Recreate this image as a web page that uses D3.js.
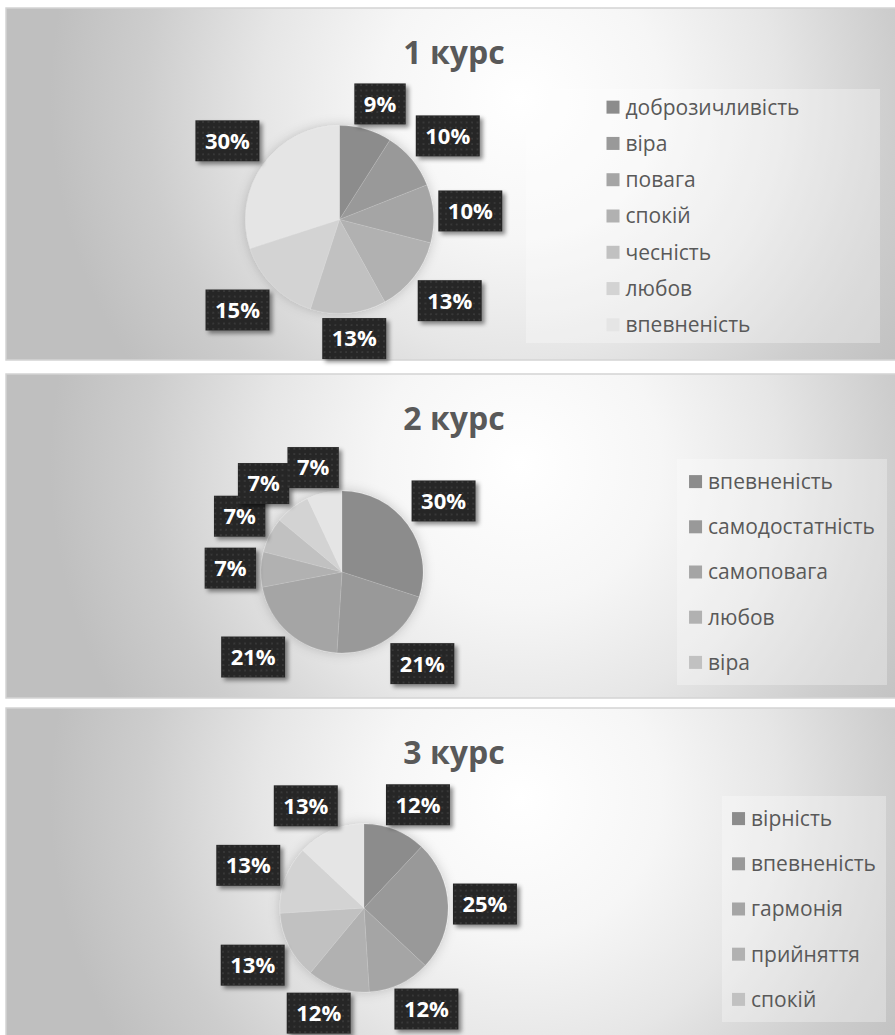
<!DOCTYPE html>
<html><head><meta charset="utf-8">
<script src="https://cdn.jsdelivr.net/npm/d3@7"></script>
<style>
body{margin:0;background:#fff;}
svg{display:block;}
text{font-family:"Open Sans",sans-serif;}
</style>
</head><body>
<svg id="chart" width="895" height="1035"></svg>
<script>
// ---- data ----
const titles = ["1 курс", "2 курс", "3 курс"];
const course1Categories = ["доброзичливість", "віра", "повага", "спокій", "чесність", "любов", "впевненість"];
const course1Values = [9, 10, 10, 13, 13, 15, 30];
// legend of course 2 and 3 only shows first five categories (remaining entries cut off in original)
const course2Categories = ["впевненість", "самодостатність", "самоповага", "любов", "віра"];
const course2Values = [30, 21, 21, 7, 7, 7, 7];
const course3Categories = ["вірність", "впевненість", "гармонія", "прийняття", "спокій"];
const course3Values = [12, 25, 12, 12, 13, 13, 13];

// ---- styles / layout ----
const shades = ["#8c8c8c", "#999999", "#a5a5a5", "#b1b1b1", "#c1c1c1", "#d3d3d3", "#e5e5e5"];
const layouts = [
  {x: 6, y: 8,   w: 890, h: 352, cx: 339.5, cy: 219.5, r: 94, legend: {x: 526, y: 89,  w: 354, h: 254}},
  {x: 6, y: 374, w: 890, h: 324, cx: 342,   cy: 572,   r: 81, legend: {x: 677, y: 459, w: 210, h: 226}},
  {x: 6, y: 708, w: 890, h: 340, cx: 364,   cy: 908,   r: 84, legend: {x: 722, y: 796, w: 164, h: 226}}
];
const charts = [
  {title: titles[0], cats: course1Categories, vals: course1Values},
  {title: titles[1], cats: course2Categories, vals: course2Values},
  {title: titles[2], cats: course3Categories, vals: course3Values}
];

const svg = d3.select("#chart");
const defs = svg.append("defs");

const pat = defs.append("pattern").attr("id", "dots").attr("width", 5.4).attr("height", 5.4)
  .attr("patternUnits", "userSpaceOnUse");
pat.append("rect").attr("width", 5.4).attr("height", 5.4).attr("fill", "#282828");
pat.append("circle").attr("cx", 2.7).attr("cy", 2.7).attr("r", 0.75).attr("fill", "#474747");

const fl = defs.append("filter").attr("id", "lblShadow").attr("x", "-30%").attr("y", "-30%").attr("width", "170%").attr("height", "170%");
fl.append("feDropShadow").attr("dx", 3).attr("dy", 3).attr("stdDeviation", 2).attr("flood-color", "#000").attr("flood-opacity", 0.45);

const fp = defs.append("filter").attr("id", "pieShadow").attr("x", "-30%").attr("y", "-30%").attr("width", "160%").attr("height", "160%");
fp.append("feDropShadow").attr("dx", 0).attr("dy", 0).attr("stdDeviation", 6).attr("flood-color", "#000").attr("flood-opacity", 0.2);

const color = d3.scaleOrdinal().domain(d3.range(7)).range(shades);

charts.forEach((c, i) => {
  const L = layouts[i];
  const gid = "bg" + i;
  const grad = defs.append("radialGradient").attr("id", gid).attr("gradientUnits", "userSpaceOnUse")
    .attr("cx", 520).attr("cy", L.y + 90).attr("r", 470);
  [[0, "#ffffff"], [0.3, "#f6f6f6"], [0.55, "#e6e6e6"], [0.8, "#cdcdcd"], [1, "#bfbfbf"]]
    .forEach(([o, col]) => grad.append("stop").attr("offset", o).attr("stop-color", col));

  const g = svg.append("g");
  g.append("rect").attr("x", L.x).attr("y", L.y).attr("width", L.w).attr("height", L.h)
    .attr("fill", `url(#${gid})`).attr("stroke", "#d4d4d4").attr("stroke-width", 1.5);

  g.append("text").attr("x", 454).attr("y", L.y + 56).attr("text-anchor", "middle")
    .attr("font-size", 32).attr("font-weight", 700).attr("fill", "#595959").text(c.title);

  // pie
  const pie = d3.pie().sort(null).value(d => d);
  const arcs = pie(c.vals);
  const arc = d3.arc().innerRadius(0).outerRadius(L.r);
  const pg = g.append("g").attr("transform", `translate(${L.cx},${L.cy})`);
  pg.append("g").attr("filter", "url(#pieShadow)").selectAll("path").data(arcs).join("path")
    .attr("d", arc).attr("fill", (d, k) => color(k))
    .attr("stroke", "rgba(255,255,255,0.18)").attr("stroke-width", 0.6);

  // labels
  arcs.forEach((d) => {
    const a = (d.startAngle + d.endAngle) / 2;
    const ux = Math.sin(a), uy = -Math.cos(a);
    const lg = pg.append("g");
    const t = lg.append("text").attr("text-anchor", "middle").attr("dy", "0.36em")
      .attr("font-size", 22).attr("font-weight", 700).attr("fill", "#ffffff").text(d.value + "%");
    const tw = t.node().getComputedTextLength();
    const bw = tw + 19, bh = 41, hw = bw / 2, hh = bh / 2;
    const s = v => Math.sign(v) * Math.min(1, Math.abs(v) * 1.8);
    const R = L.r + 5;
    const px = R * ux + hw * s(ux), py = R * uy + hh * s(uy);
    lg.attr("transform", `translate(${px},${py})`);
    lg.insert("rect", "text").attr("x", -hw).attr("y", -hh).attr("width", bw).attr("height", bh)
      .attr("fill", "url(#dots)").attr("filter", "url(#lblShadow)");
  });

  // legend
  const LG = L.legend;
  g.append("rect").attr("x", LG.x).attr("y", LG.y).attr("width", LG.w).attr("height", LG.h)
    .attr("fill", "#ffffff").attr("fill-opacity", 0.3);
  const n = c.cats.length;
  const rowH = LG.h / n;
  const items = g.append("g");
  const texts = [];
  c.cats.forEach((name, k) => {
    const cy = LG.y + rowH * (k + 0.5);
    const it = items.append("g").attr("transform", `translate(0,${cy})`);
    it.append("rect").attr("x", 0).attr("y", -6.5).attr("width", 13).attr("height", 13).attr("fill", color(k));
    const tx = it.append("text").attr("x", 19).attr("dy", "0.35em").attr("font-size", 21)
      .attr("fill", "#595959").text(name);
    texts.push(tx.node().getComputedTextLength());
  });
  const contentW = 19 + d3.max(texts);
  items.attr("transform", `translate(${LG.x + (LG.w - contentW) / 2},0)`);
});
</script>
</body></html>
